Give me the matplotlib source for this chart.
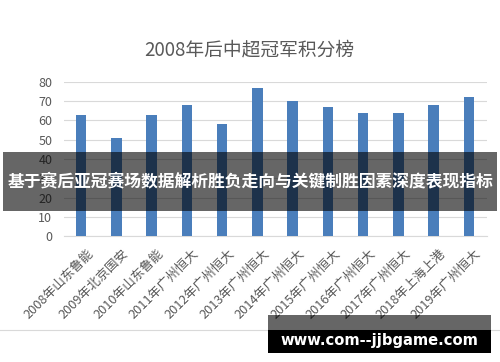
import numpy as np
import matplotlib
matplotlib.use("Agg")
from matplotlib import pyplot as plt
from matplotlib.patches import Rectangle
from matplotlib.transforms import ScaledTranslation

plt.rcParams['font.family'] = ['Noto Sans CJK SC', 'DejaVu Sans']

# campeones de la Superliga china desde 2008
equipos = ["2008年山东鲁能", "2009年北京国安", "2010年山东鲁能", "2011年广州恒大",
           "2012年广州恒大", "2013年广州恒大", "2014年广州恒大", "2015年广州恒大",
           "2016年广州恒大", "2017年广州恒大", "2018年上海上港", "2019年广州恒大"]
puntos = [63, 51, 63, 68, 58, 77, 70, 67, 64, 64, 68, 72]
yticks = [0, 10, 20, 30, 40, 50, 60, 70, 80]

titulo = "2008年后中超冠军积分榜"
banda = "基于赛后亚冠赛场数据解析胜负走向与关键制胜因素深度表现指标"
marca = "www.com--jjbgame.com"

gris = '#595959'
fig = plt.figure(figsize=(5, 3.62), dpi=100)
ax = fig.add_axes([0.127, 0.3467, 0.846, 0.4276])

x = np.arange(len(equipos))
ax.bar(x, puntos, width=0.3, color='#4a7ebb', zorder=3)
ax.set_xlim(-0.5, len(equipos) - 0.5)
ax.set_ylim(0, 80)
ax.set_yticks(yticks)
ax.yaxis.grid(True, color='#d9d9d9', linewidth=0.8, zorder=0)
for s in ['top', 'right', 'left']:
    ax.spines[s].set_visible(False)
ax.spines['bottom'].set_color('#d9d9d9')
ax.tick_params(axis='both', length=0, colors=gris, labelsize=9)
ax.tick_params(axis='y', pad=8)
ax.set_xticks(x)
ax.set_xticklabels(equipos, rotation=45, ha='right', va='center',
                   rotation_mode='anchor', color=gris, fontsize=9.2)
desp = ScaledTranslation(0.1, -0.1, fig.dpi_scale_trans)
for lbl in ax.get_xticklabels():
    lbl.set_transform(lbl.get_transform() + desp)

fig.text(0.498, 0.862, titulo, ha='center', va='center', fontsize=13.5, color=gris)

# linea del borde del grafico
fig.add_artist(plt.Line2D([0, 1], [1 - 330/362, 1 - 330/362], color='#d9d9d9', linewidth=0.8))

# banda oscura superpuesta
fig.add_artist(Rectangle((3/500, 1 - 211/362), 494/500, 59/362, transform=fig.transFigure,
                         facecolor='black', alpha=0.6, edgecolor='none', zorder=10))
fig.text(0.5, 1 - 181/362, banda, ha='center', va='center', fontsize=12.1,
         color='white', fontweight='bold', zorder=11)

# marca de agua
fig.add_artist(Rectangle((268/500, 1 - 330/362), 223/500, 15/362, transform=fig.transFigure,
                         facecolor='black', alpha=0.6, edgecolor='none', zorder=10))
fig.add_artist(Rectangle((268/500, 1 - 353/362), 223/500, 23/362, transform=fig.transFigure,
                         facecolor='black', edgecolor='none', zorder=10))
fig.text(379/500, 1 - 341/362, marca, ha='center', va='center', fontsize=10.6,
         color='white', fontweight='bold', family='DejaVu Sans', zorder=11)

fig.savefig("out.png", dpi=100)
